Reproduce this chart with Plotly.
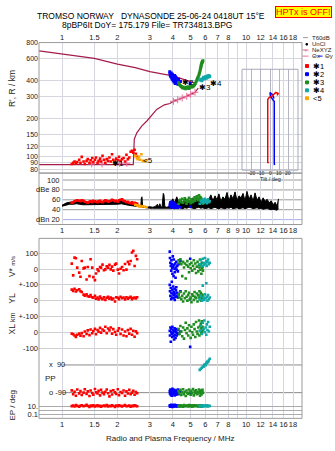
import math
import plotly.graph_objects as go

W, H = 335, 451
def px(x): return x / W
def py(y): return 1 - y / H

FONT = "Liberation Sans"
TXT = "#1a1a1a"
GRID = "#d6d6de"
RED, BLUE, GREEN, CYAN, ORANGE = "#ff0000", "#0000ff", "#1e8c1e", "#10a8a8", "#ffa500"
MAROON, PINK = "#a51c4c", "#e8709a"

# ---------------- data ----------------
freq_grid = [1, 1.5, 2, 3, 4, 5, 6, 7, 8, 9, 10, 12, 14, 16, 18]
freq_text_top = ["1", "1.5", "2", "3", "4", "5", "6", "7", "8", "", "10", "12", "14", "16", "18"]
freq_text_mid = ["1", "1.5", "2", "3", "4", "5", "6", "7", "8", "9", "10", "12", "14", "16", "18"]
height_ticks = [80, 90, 100, 120, 150, 200, 300, 400, 600, 800]
db_ticks = [100, 80, 60, 40, 20]
db_ticktext = ["100", "dBe 80", "60", "40", "dBn 20"]
tilt_ticks = [-20, -10, 0, 10, 20]

upper_f = [0.75, 1.0, 1.5, 2.0, 2.5, 3.0, 3.41, 3.86, 4.37, 4.8, 5.28]
upper_h = [689, 649, 600, 541, 507, 472, 458, 440, 419, 400, 383]
lower_f = [0.75, 1.0, 1.5, 2.0, 2.44, 2.45, 2.46, 2.47, 2.55, 2.71, 2.9, 3.27, 3.6, 3.86, 4.03, 4.4, 4.76, 5.28, 5.5]
lower_h = [87, 87, 87, 87, 87, 100, 120, 138, 155, 175, 193, 237, 258, 264, 275, 288, 301, 324, 350]
ne_f = [1.45, 1.65, 2.05, 2.25, 4.03, 4.25, 4.5, 4.76, 5.0, 5.28]
ne_h = [88, 88, 89, 89, 275, 283, 292, 301, 312, 324]

dbe_f_low = [1.00, 1.03, 1.06, 1.10, 1.15, 1.20, 1.30, 1.40, 1.50, 1.60, 1.70, 1.80, 1.90, 2.00, 2.10, 2.20, 2.30, 2.40, 2.50, 2.60,
             2.68, 2.70, 2.72, 2.74, 2.80, 2.90, 3.00, 3.10, 3.20, 3.30, 3.35, 3.40, 3.45, 3.50, 3.55, 3.58, 3.62, 3.65, 3.70, 3.80]
dbe_up_low = [49, 52, 54, 55, 56, 57, 56, 55, 56, 55, 57, 56, 57, 56, 58, 56, 55, 53, 51, 50,
              48, 64, 66, 47, 46, 45, 46, 45, 46, 51, 45, 52, 45, 46, 73, 70, 46, 45, 45, 46]
dbe_lo_low = [47, 48, 50, 51, 51, 52, 50, 50, 51, 50, 51, 50, 51, 51, 52, 50, 49, 48, 47, 46,
              45, 45, 45, 44, 44, 43, 43, 43, 43, 43, 43, 43, 43, 43, 43, 43, 43, 43, 43, 44]
dbe_f_high = [3.90, 4.00, 4.10, 4.20, 4.31, 4.42, 4.53, 4.65, 4.77, 4.89, 5.01, 5.14, 5.27, 5.40, 5.54, 5.68, 5.83, 5.97, 6.13, 6.28,
              6.44, 6.61, 6.78, 6.95, 7.12, 7.30, 7.49, 7.68, 7.88, 8.08, 8.28, 8.49, 8.71, 8.93, 9.16, 9.39, 9.63, 9.87, 10.12, 10.38,
              10.65, 10.92, 11.19, 11.48, 11.77, 12.07, 12.38, 12.69, 13.02, 13.35, 13.69, 14.03, 14.39, 14.75, 15.0]
dbe_up_high = [55, 62, 54, 66, 56, 60, 53, 63, 57, 60, 55, 64, 58, 62, 56, 66, 59, 63, 57, 61,
               70, 58, 68, 60, 72, 57, 66, 61, 75, 58, 70, 62, 76, 59, 68, 64, 73, 58, 77, 61,
               70, 57, 74, 59, 66, 55, 64, 57, 61, 54, 58, 50, 55, 47, 62]
dbe_lo_high = [44, 43, 42, 44, 45, 43, 42, 44, 43, 45, 44, 43, 42, 44, 45, 43, 44, 42, 43, 44,
               42, 43, 45, 43, 42, 44, 43, 42, 44, 43, 45, 42, 43, 44, 42, 43, 44, 42, 43, 45,
               44, 42, 43, 44, 42, 43, 41, 42, 43, 41, 40, 41, 40, 39, 42]

red_f = [1.13, 1.15, 1.17, 1.19, 1.21, 1.24, 1.26, 1.28, 1.31, 1.33, 1.36, 1.38, 1.41, 1.43, 1.46, 1.48, 1.51, 1.53, 1.56, 1.58,
         1.61, 1.63, 1.66, 1.69, 1.72, 1.75, 1.78, 1.81, 1.84, 1.87, 1.90, 1.94, 1.97, 2.01, 2.04, 2.08, 2.12, 2.16, 2.20, 2.24,
         2.28, 2.32, 2.36, 2.40, 2.44, 2.48, 2.52, 2.56]
red_h = [88, 90, 92, 89, 91, 95, 90, 100, 92, 88, 93, 96, 90, 94, 98, 91, 95, 99, 90, 93,
         97, 92, 102, 95, 90, 96, 93, 99, 92, 105, 95, 91, 97, 94, 100, 93, 96, 98, 92, 104,
         96, 99, 110, 112, 108, 114, 106, 100]
red_db = [54, 55, 57, 58, 59, 58, 57, 59, 58, 56, 55, 54, 56, 57, 55, 58, 57, 56, 55, 57,
          58, 56, 55, 57, 59, 58, 56, 57, 58, 60, 59, 57, 58, 56, 59, 60, 61, 58, 57, 55,
          56, 54, 53, 55, 52, 54, 53, 52]
red_v = [34, -40, 72, 68, 9, -23, -49, 51, 4, 9, -66, 13, -45, 62, 9, -51, -70, -28, -2, -12,
         13, 9, 28, -8, -2, 17, 9, 26, -2, 15, -10, 28, 34, -4, -28, 2, 13, -8, 32, -4,
         45, 30, 51, 104, 115, 19, 83, 62]
red_yl = [70, 62, 75, 58, 66, 72, 60, 55, 38, 32, 40, 28, 25, 35, 22, 18, 30, 12, 20, 8,
          26, 15, 10, 22, 5, 18, 25, 12, 20, 8, 14, -5, 22, 18, 10, 25, 15, 20, 8, 22,
          12, 18, 24, 10, 16, 20, 14, 22]
red_xl = [-8, -12, -20, -30, -15, -8, -22, -5, -25, 5, -10, 12, -18, 18, -6, 8, 22, -12, 15, 4,
          28, -2, 18, 10, 35, -5, 24, 12, 30, -8, 20, 2, -15, 10, 25, -10, 18, -20, 5, -25,
          14, -8, 22, -15, 10, -28, 6, -5]
red_pp = [-75, -100, -85, -110, -70, -95, -80, -105, -90, -68, -98, -82, -112, -76, -92, -104, -66, -88, -96, -78,
          -108, -72, -90, -100, -84, -70, -94, -114, -80, -102, -74, -88, -98, -68, -106, -86, -92, -76, -110, -82,
          -96, -72, -100, -90, -78, -104, -86, -94]
red_ep = [12, 18, 10, 22, 14, 9, 16, 20, 11, 15, 25, 13, 8, 17, 12, 19, 10, 14, 21, 11,
          16, 9, 13, 18, 12, 24, 10, 15, 11, 19, 13, 8, 17, 12, 20, 14, 10, 16, 22, 11,
          13, 18, 9, 15, 12, 20, 14, 11]

orange_f = [2.50, 2.55, 2.58, 2.62, 2.66, 2.70, 2.75, 2.82, 2.88]
orange_h = [102, 98, 96, 100, 95, 105, 93, 92, 94]
orange_db = [50, 49, 48, 47, 48, 46, 47, 46, 45]

blue_f = [3.85, 3.86, 3.88, 3.90, 3.92, 3.93, 3.95, 3.97, 3.98, 4.00, 4.02, 4.04, 4.05, 4.07, 4.09, 4.10, 4.12, 4.14, 4.16, 4.18,
          4.20, 4.23, 4.26, 4.30, 4.40, 4.97]
blue_h = [470, 455, 440, 430, 460, 445, 420, 410, 450, 435, 400, 425, 415, 390, 440, 405, 380, 430, 395, 420,
          385, 400, 375, 410, 395, 380]
blue_db = [48, 52, 55, 45, 50, 56, 47, 53, 44, 51, 49, 54, 46, 50, 45, 52, 48, 44, 47, 50, 46, 49, 44, 47, 45, 46]
blue_v = [110, 70, 40, 20, -10, 55, 30, 5, -30, 80, 15, -45, 60, 25, 0, -20, 35, -55, 10, 45, -5, 20, -15, 30, 50, 65]
blue_yl = [100, 60, 30, 80, 10, 50, 120, 20, 70, 40, 90, 15, 55, 35, 75, 5, 45, 25, 65, 85, 30, 50, 20, 40, 60, 10]
blue_xl = [10, -20, 30, -60, 0, 20, -10, -30, 35, -5, 15, -25, 5, -45, 25, -15, 10, -35, 0, 20, -20, -5, 15, -10, 5, -92]
blue_pp = [-80, -95, -70, -105, -88, -75, -110, -92, -65, -100, -85, -78, -96, -72, -108, -90, -82, -98, -76, -104,
           -86, -94, -70, -100, -84, -90]
blue_ep = [12, 20, 9, 15, 25, 11, 18, 14, 8, 22, 13, 16, 10, 19, 12, 27, 15, 11, 17, 13, 21, 10, 14, 16, 12, 18]

green_f = [4.30, 4.35, 4.40, 4.45, 4.50, 4.55, 4.60, 4.65, 4.70, 4.75, 4.80, 4.85, 4.90, 4.95, 5.00, 5.05, 5.10, 5.15, 5.20, 5.25,
           5.30, 5.35, 5.40, 5.45, 5.50, 5.55, 5.58, 5.62, 5.65, 5.68, 5.70, 5.72, 5.75, 5.78, 5.80, 5.83]
green_h = [385, 372, 365, 360, 352, 356, 348, 351, 345, 355, 350, 358, 347, 353, 360, 356, 362, 358, 366, 372,
           380, 392, 405, 418, 430, 445, 460, 478, 495, 510, 525, 540, 552, 560, 568, 575]
green_db = [52, 58, 60, 55, 62, 54, 59, 63, 57, 52, 60, 56, 64, 58, 53, 61, 57, 55, 60, 65,
            58, 62, 67, 63, 59, 69, 61, 66, 60, 64, 58, 62, 57, 60, 55, 52]
green_v = [55, 40, 62, 30, -45, 45, 10, 35, -60, 25, 50, 15, -20, 30, 5, 40, -10, 20, 55, 0,
           35, -25, 15, 45, -15, 25, 10, 60, -5, 30, 20, -30, 40, 5, 15, -10]
green_yl = [40, 20, 55, 10, 30, -5, 45, 15, 60, 25, 0, 35, 50, 10, 20, -10, 40, 30, 5, 55,
            25, 15, 45, -5, 35, 20, 60, 10, 30, 50, 0, 40, 25, 15, 35, 20]
green_xl = [20, -10, 40, 5, -25, 30, -40, 15, 60, -5, 25, -20, 45, 10, -35, 35, 0, -15, 50, 20,
            -30, 65, 5, -10, 30, 75, -20, 40, 10, 55, -5, 25, 70, 0, 35, 15]
green_pp = [-80, -95, -72, -105, -88, -68, -100, -84, -112, -76, -92, -98, -70, -86, -104, -78, -94, -66, -108, -82,
            -90, -74, -100, -86, -96, -70, -88, -110, -80, -92, -76, -102, -84, -94, -72, -90]
green_ep = [14, 10, 20, 12, 16, 9, 22, 13, 11, 18, 15, 10, 24, 12, 17, 14, 9, 19, 13, 11,
            21, 15, 12, 16, 10, 18, 14, 11, 20, 13, 15, 9, 17, 12, 14, 16]

cyan_f = [5.60, 5.68, 5.75, 5.82, 5.88, 5.93, 5.98, 6.03, 6.08, 6.12, 6.17, 6.22, 6.28, 6.35]
cyan_h = [405, 410, 400, 415, 425, 412, 420, 430, 418, 428, 435, 425, 440, 432]
cyan_db = [52, 58, 55, 60, 54, 57, 62, 56, 59, 53, 58, 61, 55, 57]
cyan_v = [30, 55, 20, 65, 40, 25, 70, 35, 50, 20, 45, 60, 30, 40]
cyan_yl = [10, 30, 0, 95, 20, 5, 40, 15, 110, 25, 0, 35, 10, 20]
cyan_xl = [10, 40, -10, 60, 20, 75, 0, 30, -15, 50, 15, 65, 5, 35]
cyan_pp = [58, 65, 72, 80, 78, 90, 95, 88, 100, 105, 112, 108, 120, 130]
cyan_ep = [12, 15, 10, 18, 13, 11, 16, 14, 20, 12, 17, 10, 15, 13]

tilt_red_t = [-1.5, -2.5, -2.5, -1.0, 1.5, 4.0, 6.5, 9.0, 8.0]
tilt_red_u = [8, 7, 70, 72, 73, 75, 77, 76, 74]
tilt_blue_t = [5.0, 4.7, 4.7, 3.0, 0.5, 0.0, 2.5, 4.5]
tilt_blue_u = [5, 7, 68, 70, 73, 77, 75, 71]

# ---------------- figure ----------------
fig = go.Figure()
MS = 2.6

def pts(xs, ys, color, xa, ya, size=MS):
    fig.add_trace(go.Scatter(x=xs, y=ys, mode="markers", xaxis=xa, yaxis=ya,
                             marker=dict(symbol="square", size=size, color=color, line=dict(width=0)),
                             showlegend=False, hoverinfo="skip"))

def line(xs, ys, color, xa, ya, width=1.2, **kw):
    fig.add_trace(go.Scatter(x=xs, y=ys, mode="lines", xaxis=xa, yaxis=ya,
                             line=dict(color=color, width=width), showlegend=False, hoverinfo="skip", **kw))

# top panel
line(upper_f, upper_h, MAROON, "x", "y")
line(lower_f, lower_h, MAROON, "x", "y")
fig.add_trace(go.Scatter(x=ne_f, y=ne_h, mode="markers", xaxis="x", yaxis="y",
                         marker=dict(symbol="cross-thin", size=5, line=dict(color=PINK, width=1)),
                         showlegend=False, hoverinfo="skip"))
pts(red_f, red_h, RED, "x", "y")
pts(orange_f, orange_h, ORANGE, "x", "y")
pts(blue_f, blue_h, BLUE, "x", "y", 3)
pts(green_f, green_h, GREEN, "x", "y", 3)
pts(cyan_f, cyan_h, CYAN, "x", "y", 3)

# dBe panel
dbe_f = dbe_f_low + dbe_f_high
line(dbe_f, dbe_lo_low + dbe_lo_high, "black", "x2", "y2", width=1)
line(dbe_f, dbe_up_low + dbe_up_high, "black", "x2", "y2", width=1, fill="tonexty", fillcolor="black")
pts(red_f, red_db, RED, "x2", "y2")
pts(orange_f, orange_db, ORANGE, "x2", "y2")
pts(blue_f, blue_db, BLUE, "x2", "y2")
pts(green_f, green_db, GREEN, "x2", "y2")
pts(cyan_f, cyan_db, CYAN, "x2", "y2")

# bottom panel
for f, v, yl, xl, pp, ep, c in [
    (red_f, red_v, red_yl, red_xl, red_pp, red_ep, RED),
    (blue_f, blue_v, blue_yl, blue_xl, blue_pp, blue_ep, BLUE),
    (green_f, green_v, green_yl, green_xl, green_pp, green_ep, GREEN),
    (cyan_f, cyan_v, cyan_yl, cyan_xl, cyan_pp, cyan_ep, CYAN),
]:
    pts(f, v, c, "x3", "y3")
    pts(f, yl, c, "x3", "y4")
    pts(f, xl, c, "x3", "y5")
    pts(f, pp, c, "x3", "y6")
    pts(f, ep, c, "x3", "y7")

# inset tilt
line(tilt_blue_t, tilt_blue_u, BLUE, "x4", "y8", width=1.5)
line(tilt_red_t, tilt_red_u, RED, "x4", "y8", width=1.5)

TF = dict(family=FONT, size=7.5, color=TXT)
XD = [px(39), px(302)]
xcommon = dict(type="log", range=[-0.125, 1.304], tickmode="array", tickvals=freq_grid,
               showgrid=True, gridcolor=GRID, gridwidth=1, zeroline=False, showline=False,
               ticks="", tickfont=TF, tickangle=0, domain=XD)
ycommon = dict(zeroline=False, showline=False, ticks="", tickfont=TF)

fig.update_layout(
    width=W, height=H, autosize=False,
    margin=dict(l=0, r=0, t=0, b=0, pad=0),
    paper_bgcolor="white", plot_bgcolor="rgba(0,0,0,0)",
    font=dict(family=FONT, size=8, color=TXT),
    showlegend=False,
    xaxis=dict(**xcommon, anchor="y", side="top", ticktext=freq_text_top),
    xaxis2=dict(**xcommon, anchor="y2", matches="x", ticktext=freq_text_mid),
    xaxis3=dict(**xcommon, anchor="y3", matches="x", ticktext=freq_text_top),
    yaxis=dict(zeroline=False, showline=False, ticks="", tickfont=dict(family=FONT, size=7, color=TXT),
               type="log", domain=[py(171), py(39)],
               range=[math.log10(74.5), math.log10(800)], tickmode="array",
               tickvals=height_ticks, showgrid=True, gridcolor=GRID, anchor="x"),
    yaxis2=dict(**ycommon, domain=[py(223), py(171)], range=[10, 114], showgrid=False,
                showticklabels=False, anchor="x2"),
    yaxis3=dict(**ycommon, domain=[py(419), py(237)], range=[-943.75, 193.75], tickmode="array",
                tickvals=[100, 0], ticktext=["100", "0"], showgrid=True, gridcolor="#cfcfd4", anchor="x3"),
    yaxis4=dict(**ycommon, overlaying="y3", anchor="x3", side="left", range=[-743.75, 393.75],
                tickmode="array", tickvals=[100, 0, -100], ticktext=["+-100", "0", "+-100"],
                showgrid=True, gridcolor="#cfcfd4"),
    yaxis5=dict(**ycommon, overlaying="y3", anchor="x3", side="left", range=[-543.75, 593.75],
                tickmode="array", tickvals=[0, -100], ticktext=["0", "-100"],
                showgrid=True, gridcolor="#cfcfd4"),
    yaxis6=dict(**ycommon, overlaying="y3", anchor="x3", side="left", range=[-257.1, 912.9],
                showgrid=False, showticklabels=False),
    yaxis7=dict(**ycommon, overlaying="y3", anchor="x3", side="left", type="log", range=[-2, 43.5],
                tickmode="array", tickvals=[10, 1, 0.1], ticktext=["10.", "", "0.1"],
                showgrid=True, gridcolor="#ababab"),
    xaxis4=dict(domain=[px(242), px(298)], range=[-31, 31], anchor="y8", tickmode="array",
                tickvals=tilt_ticks, showticklabels=False, showgrid=True, gridcolor="#b4b4c4",
                zeroline=False, showline=False, ticks=""),
    yaxis8=dict(domain=[py(168), py(66)], range=[0, 100], anchor="x4", showgrid=False,
                showticklabels=False, zeroline=False, showline=False),
)

shapes = []
def rect(x0, y0, x1, y1, color="#9a9a9a", fill=None, width=1):
    shapes.append(dict(type="rect", xref="paper", yref="paper", x0=px(x0), x1=px(x1), y0=py(y0), y1=py(y1),
                       line=dict(color=color, width=width), fillcolor=fill or "rgba(0,0,0,0)", layer="above"))
def hline_px(x0, x1, y, color, width=1):
    shapes.append(dict(type="line", xref="paper", yref="paper", x0=px(x0), x1=px(x1), y0=py(y), y1=py(y),
                       line=dict(color=color, width=width), layer="above"))

rect(39, 39, 302, 171)
rect(39, 171, 302, 223)
rect(39, 237, 302, 419)
rect(242, 66, 298, 168, color="#a8a8b8")

for v in [100, 80, 60, 40]:
    shapes.append(dict(type="line", xref="paper", yref="y2", x0=px(63), x1=px(302), y0=v, y1=v,
                       line=dict(color="#9a9a9a", width=1), layer="below"))
shapes.append(dict(type="line", xref="paper", yref="y2", x0=px(63), x1=px(302), y0=20, y1=20,
                   line=dict(color="#aab0e8", width=1), layer="below"))
for v in [90, -90]:
    shapes.append(dict(type="line", xref="paper", yref="y6", x0=px(62), x1=px(302), y0=v, y1=v,
                       line=dict(color="#8a8a8a", width=1), layer="below"))

# legend glyphs
hline_px(303, 308, 34, "#999999")
rect(306, 40, 307.5, 41.5, color="black", fill="black")
hline_px(302.5, 308.5, 46.5, PINK)
hline_px(302.5, 308.5, 52.7, PINK)
hline_px(318, 322.5, 52.7, BLUE)
for yy, c in [(62.7, RED), (71, BLUE), (79.3, GREEN), (87.3, CYAN), (95.3, ORANGE)]:
    rect(305.5, yy - 1.5, 308.5, yy + 1.5, color=c, fill=c)

fig.update_layout(shapes=shapes)

anns = []
def ann(text, x, y, size=8, xanchor="center", yanchor="middle", angle=0, color=TXT, **kw):
    anns.append(dict(text=text, x=px(x), y=py(y), xref="paper", yref="paper", showarrow=False,
                     xanchor=xanchor, yanchor=yanchor, textangle=angle,
                     font=dict(family=FONT, size=size, color=color), **kw))
def ann_data(text, f, h, size=8):
    anns.append(dict(text=text, x=math.log10(f), y=math.log10(h), xref="x", yref="y", showarrow=False,
                     xanchor="left", yanchor="middle", font=dict(family=FONT, size=size, color="black")))

ann("TROMSO NORWAY\u00a0\u00a0\u00a0DYNASONDE 25-06-24 0418UT 15°E", 35, 12, size=8.5, xanchor="left", color="black")
ann("8pBP6It DoY= 175.179 File= TR734813.BPG", 60, 21, size=8.5, xanchor="left", color="black")
ann("HPTx is OFF!", 303, 8, size=9, color="#ff0000", bgcolor="#ffff00", bordercolor="#ff0000",
    borderwidth=1, borderpad=0)

ann("R', R / km", 12, 86, size=8.5, angle=-90)
for t, yy in zip(db_ticktext, [178, 187.5, 197.5, 208, 218]):
    ann(t, 62, yy, size=7.5, xanchor="right")
ann("V* <span style='font-size:6px'>m/s</span>", 12, 266, size=8.5, angle=-90)
ann("YL", 12, 298, size=8.5, angle=-90)
ann("XL <span style='font-size:7px'>km</span>", 12, 323, size=8.5, angle=-90)
ann("PP", 43, 379, size=8, xanchor="left")
ann("x\u00a0\u00a090", 47, 365, size=7.5, xanchor="left")
ann("o -90", 47, 393, size=7.5, xanchor="left")
ann("EP / deg", 12, 406, size=8, angle=-90)
ann("Radio and Plasma Frequency / MHz", 170, 439, size=8)

# inset tick labels and title
for t in tilt_ticks:
    anns.append(dict(text=str(t), x=t, y=py(170.5), xref="x4", yref="paper", showarrow=False,
                     xanchor="center", yanchor="middle", font=dict(family=FONT, size=5, color=TXT)))
ann("Tilt / deg", 270, 176.5, size=5.5)

ann_data("✱1", 1.82, 88)
ann_data("<5", 2.68, 93)
ann_data("✱2", 4.4, 387)
ann_data("✱3", 5.4, 356)
ann_data("✱4", 6.24, 383)

LF = 6
ann("T60dB", 309.5, 34, size=LF, xanchor="left")
ann("UnCl", 309.5, 40.5, size=LF, xanchor="left")
ann("+", 305.5, 46.5, size=6, color=PINK)
ann("NeXYZ", 309.5, 46.5, size=LF, xanchor="left")
ann("Θx", 309.5, 53, size=LF, xanchor="left")
ann("Θy", 323, 53, size=LF, xanchor="left")
for yy, t in [(62.7, "✱1"), (71, "✱2"), (79.3, "✱3"), (87.3, "✱4"), (95.3, "<5")]:
    ann(t, 310.5, yy, size=7.5, xanchor="left", color="black")

fig.update_layout(annotations=anns)

fig.write_html("out.html")
